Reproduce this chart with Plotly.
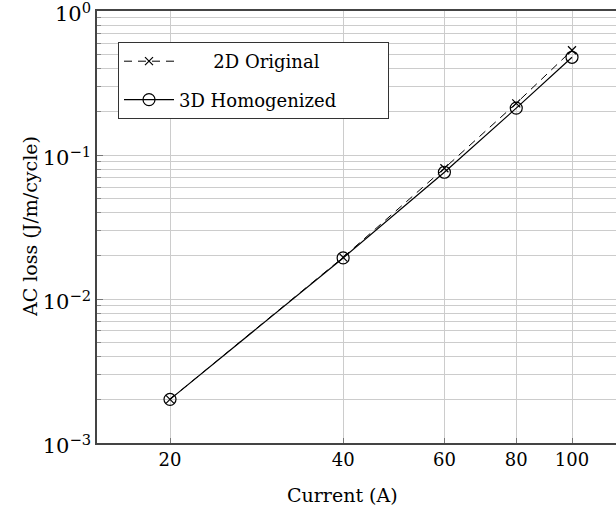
import numpy as np
import plotly.graph_objects as go

current = [20, 40, 60, 80, 100]
loss_2d = [0.00201, 0.0195, 0.0810, 0.229, 0.535]
loss_3d = [0.00201, 0.0193, 0.0760, 0.212, 0.478]
x_ticks = [20, 40, 60, 80, 100]
y_ticks = [0.001, 0.01, 0.1, 1]
y_ticktext = ["10<sup>\u22123</sup>", "10<sup>\u22122</sup>", "10<sup>\u22121</sup>", "10<sup>0</sup>"]
series_names = ["2D Original", "3D Homogenized"]

FONT = "DejaVu Serif"
FS = 18
NB = "\u00a0"
fig = go.Figure()
fig.add_trace(go.Scatter(
    x=current, y=loss_2d, mode="lines+markers", name=NB * 6 + series_names[0],
    legendgroup="a",
    line=dict(color="black", width=1, dash="8px,6px"),
    marker=dict(symbol="x-thin", size=8, line=dict(color="black", width=1.2), color="black"),
))
fig.add_trace(go.Scatter(
    x=current, y=loss_3d, mode="lines+markers", name=series_names[1] + NB * 8,
    legendgroup="b",
    line=dict(color="black", width=1.2),
    marker=dict(symbol="circle-open", size=12, line=dict(color="black", width=1.2), color="black"),
))

W, H = 616, 520
L, T, B = 97, 11, 77
px_per_dec = 402 / np.log10(5)
x_lo = np.log10(20) - (170 - L) / px_per_dec
x_hi = np.log10(20) + (W - 170) / px_per_dec

fig.update_layout(
    width=W, height=H,
    margin=dict(l=L, r=0, t=T, b=B, autoexpand=False),
    paper_bgcolor="white", plot_bgcolor="white",
    font=dict(family=FONT, size=FS, color="black"),
    showlegend=True,
    legend=dict(
        x=(118 - L) / (W - L), y=(H - B - 42) / (H - B - T), xanchor="left", yanchor="top",
        bgcolor="white", bordercolor="#333333", borderwidth=1, itemwidth=50,
        font=dict(family=FONT, size=FS), traceorder="grouped", tracegroupgap=12,
    ),
    xaxis=dict(
        type="log", range=[x_lo, x_hi], automargin=False,
        tickvals=x_ticks, ticktext=[str(v) for v in x_ticks],
        showgrid=True, gridcolor="#cccccc", gridwidth=1,
        ticks="inside", ticklen=5, tickcolor="#777777",
        showline=True, linecolor="#444444", linewidth=1.5, mirror=True,
        zeroline=False, tickfont=dict(size=FS),
    ),
    yaxis=dict(
        type="log", range=[-3, 0.001], tickvals=y_ticks, ticktext=y_ticktext,
        automargin=False, ticklabeloverflow="allow", ticklabelshift=3,
        showgrid=True, gridcolor="#cccccc", gridwidth=1,
        ticks="inside", ticklen=6, tickcolor="#777777",
        minor=dict(dtick="D1", showgrid=True, gridcolor="#cccccc", gridwidth=1,
                   ticks="inside", ticklen=4, tickcolor="#888888"),
        showline=True, linecolor="#444444", linewidth=1.5,
        zeroline=False, tickfont=dict(size=21),
    ),
)
fig.add_annotation(text="Current (A)", xref="paper", yref="paper",
                   x=(342 - L) / (W - L), y=-(495 - (H - B)) / (H - B - T),
                   xanchor="center", yanchor="middle", showarrow=False,
                   font=dict(family=FONT, size=19))
fig.add_annotation(text="AC loss (J/m/cycle)", xref="paper", yref="paper",
                   x=-(L - 30) / (W - L), y=0.5, textangle=-90,
                   xanchor="center", yanchor="middle", showarrow=False,
                   font=dict(family=FONT, size=19))
fig.write_html("out.html", config={"displayModeBar": False},
               post_script="document.body.style.margin='0';")
